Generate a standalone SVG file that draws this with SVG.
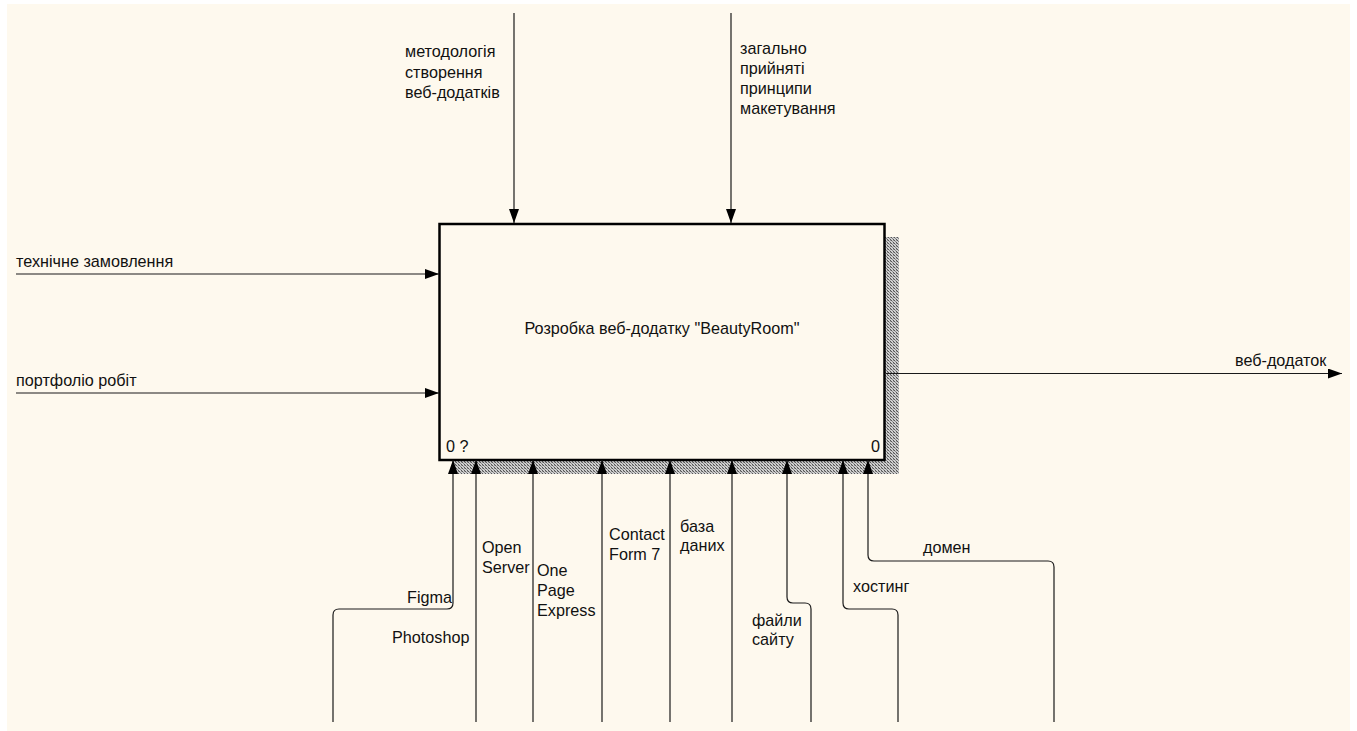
<svg xmlns="http://www.w3.org/2000/svg" width="1357" height="731" viewBox="0 0 1357 731">
<style>
.t{font-family:"Liberation Sans",Arial,sans-serif;font-size:16.2px;fill:#111}
.c{fill:none;stroke:#1a1a1a;stroke-width:1.2}
</style>
<defs>
<marker id="ah" viewBox="0 0 14 10" refX="14" refY="5" markerWidth="14" markerHeight="10" markerUnits="userSpaceOnUse" orient="auto">
<path d="M0,0 L14,5 L0,10 z" fill="#000"/>
</marker>
<pattern id="hatch" width="3" height="3" patternUnits="userSpaceOnUse">
<rect width="3" height="3" fill="#d0d0d0"/>
<rect x="0" y="0" width="1" height="1" fill="#555"/>
<rect x="1" y="1" width="1" height="1" fill="#888"/>
<rect x="2" y="2" width="1" height="1" fill="#555"/>
<rect x="2" y="0" width="1" height="1" fill="#999"/>
</pattern>
</defs>
<rect x="0" y="0" width="1357" height="731" fill="#ffffff"/>
<rect x="7" y="4" width="1343" height="727" fill="#fef9ee"/>

<g id="node-A0">
<rect x="885" y="237" width="14" height="237" fill="url(#hatch)"/>
<rect x="453" y="461" width="446" height="13" fill="url(#hatch)"/>
<rect x="439.5" y="224" width="445" height="236" fill="#fef9ee" stroke="#000" stroke-width="2.5"/>
<text class="t" x="662" y="334" text-anchor="middle">Розробка веб-додатку "BeautyRoom"</text>
<text class="t" x="446" y="452">0 ?</text>
<text class="t" x="871" y="452">0</text>
</g>

<g id="connectors">
<path class="c" d="M514,13 V223" marker-end="url(#ah)"/>
<path class="c" d="M731,13 V223" marker-end="url(#ah)"/>
<path class="c" d="M16,274 H439" marker-end="url(#ah)"/>
<path class="c" d="M16,393 H439" marker-end="url(#ah)"/>
<path class="c" d="M886,373.5 H1342" marker-end="url(#ah)"/>
<path class="c" d="M333,722 V615 Q333,609 339,609 H447 Q453,609 453,603 V460" marker-end="url(#ah)"/>
<path class="c" d="M476,722 V460" marker-end="url(#ah)"/>
<path class="c" d="M533,722 V460" marker-end="url(#ah)"/>
<path class="c" d="M602,722 V460" marker-end="url(#ah)"/>
<path class="c" d="M670,722 V460" marker-end="url(#ah)"/>
<path class="c" d="M732,722 V460" marker-end="url(#ah)"/>
<path class="c" d="M811,722 V609 Q811,603 805,603 H793 Q787,603 787,597 V460" marker-end="url(#ah)"/>
<path class="c" d="M898,722 V615 Q898,609 892,609 H849 Q843,609 843,603 V460" marker-end="url(#ah)"/>
<path class="c" d="M1054,722 V567 Q1054,561 1048,561 H874 Q868,561 868,555 V460" marker-end="url(#ah)"/>
</g>

<g id="labels">
<text class="t" x="405" y="57">методологія</text>
<text class="t" x="405" y="78">створення</text>
<text class="t" x="405" y="98">веб-додатків</text>
<text class="t" x="740" y="54">загально</text>
<text class="t" x="740" y="74">прийняті</text>
<text class="t" x="740" y="94">принципи</text>
<text class="t" x="740" y="114">макетування</text>
<text class="t" x="16" y="267">технічне замовлення</text>
<text class="t" x="16" y="386">портфоліо робіт</text>
<text class="t" x="1235" y="366">веб-додаток</text>
<text class="t" x="407" y="603">Figma</text>
<text class="t" x="392" y="643">Photoshop</text>
<text class="t" x="482" y="553">Open</text>
<text class="t" x="482" y="573">Server</text>
<text class="t" x="537" y="576">One</text>
<text class="t" x="537" y="596">Page</text>
<text class="t" x="537" y="616">Express</text>
<text class="t" x="609" y="540">Contact</text>
<text class="t" x="609" y="560">Form 7</text>
<text class="t" x="680" y="532">база</text>
<text class="t" x="680" y="551">даних</text>
<text class="t" x="752" y="626">файли</text>
<text class="t" x="752" y="645">сайту</text>
<text class="t" x="853" y="592">хостинг</text>
<text class="t" x="923" y="553">домен</text>
</g>
</svg>
